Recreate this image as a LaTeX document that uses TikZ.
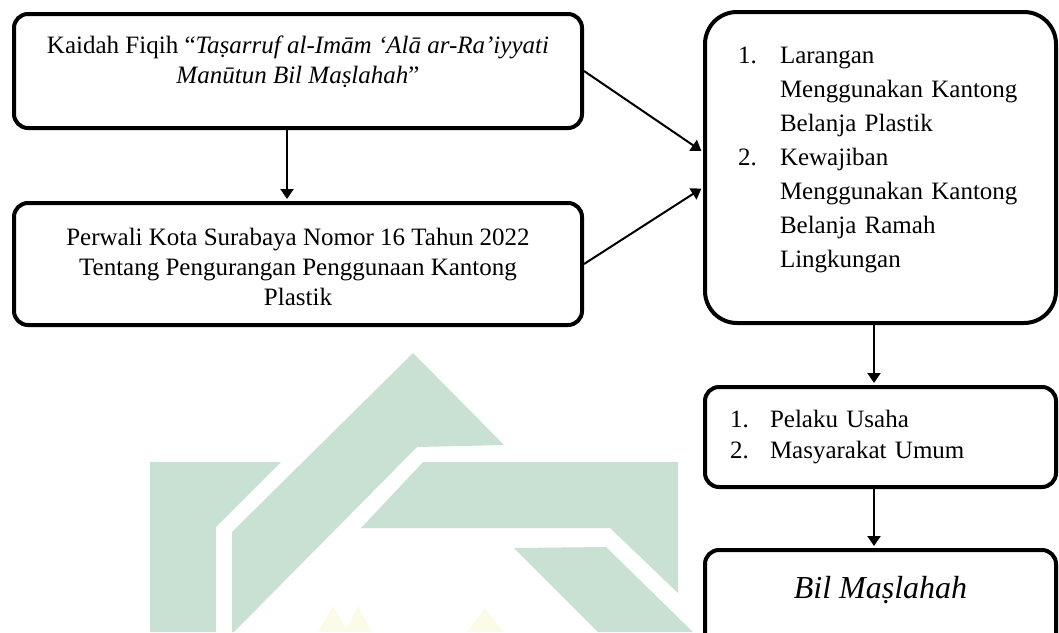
\documentclass[tikz,border=0pt]{standalone}
\usepackage{fontspec}
\setmainfont{Liberation Serif}
\usepackage{xcolor}
\usepackage{tikz}
\usetikzlibrary{arrows.meta,positioning}

\definecolor{logogreen}{RGB}{201,225,211}
\definecolor{logoyellow}{RGB}{252,251,232}

\begin{document}
\begin{tikzpicture}[
    x=0.5pt, y=-0.5pt,
    box/.style={draw=black, fill=white, line width=2pt, rounded corners=7pt, minimum width=284pt, inner sep=0pt, align=center, font=\fontsize{12.5}{15}\selectfont},
    listbox/.style={draw=black, fill=white, line width=2pt, minimum width=175.5pt, inner ysep=0pt, align=left},
    arrow/.style={-{Triangle[length=5pt,width=6.5pt]}, line width=1pt, shorten >=1pt},
    logo/.style={fill=logogreen, draw=none}
]
    \clip (0,0) rectangle (1059,632);

    % Watermark
    \fill[logo] (150,462) -- (281,462) -- (216,527) -- (216,632) -- (150,632) -- cycle;
    \fill[logo] (413,353) -- (504,445) -- (417,447) -- (234,632) -- (232,632) -- (232,532) -- cycle;
    \fill[logo] (423,462) -- (678,462) -- (678,593) -- (610,528) -- (361,528) -- cycle;
    \fill[logo] (514,548) -- (606,547) -- (693,632) -- (598,632) -- cycle;
    \fill[logoyellow] (318,632) -- (333,606) -- (348,632) -- cycle;
    \fill[logoyellow] (345,632) -- (358,606) -- (372,632) -- cycle;
    \fill[logoyellow] (467,632) -- (485,608) -- (503,632) -- cycle;

    % Left column
    \node[box, minimum height=57pt] (kaidah) at (298,71)
        {\raisebox{4.5pt}[\height][\depth]{\begin{tabular}{@{}c@{}}
        Kaidah Fiqih ``\textit{Taṣarruf al-Imām ‘Alā ar-Ra’iyyati}\\
        \textit{Manūtun Bil Maṣlahah}''
        \end{tabular}}};
    \node[box, minimum height=61pt] (perwali) at (298,264)
        {\raisebox{-2.5pt}[\height][\depth]{\begin{tabular}{@{}c@{}}
        Perwali Kota Surabaya Nomor 16 Tahun 2022\\
        Tentang Pengurangan Penggunaan Kantong\\
        Plastik
        \end{tabular}}};

    % Right column
    \node[listbox, rounded corners=16pt, minimum height=155.5pt, inner xsep=16.5pt, text width=142.5pt, font=\fontsize{12.5}{17}\selectfont] (aturan) at (880.5,167.5)
        {\raisebox{4.5pt}[\height][\depth]{\begin{tabular}{@{}p{21pt}@{}l@{}}
        1. & Larangan\\
           & Menggunakan Kantong\\
           & Belanja Plastik\\
        2. & Kewajiban\\
           & Menggunakan Kantong\\
           & Belanja Ramah\\
           & Lingkungan
        \end{tabular}}};
    \node[listbox, rounded corners=7pt, minimum height=50pt, inner xsep=12.5pt, text width=150.5pt, font=\fontsize{12.5}{15.5}\selectfont] (subjek) at (880.5,437)
        {\begin{tabular}{@{}p{20pt}@{}l@{}}
        1. & Pelaku Usaha\\
        2. & Masyarakat Umum
        \end{tabular}};
    \node[box, minimum width=175.5pt, minimum height=50pt, font=\fontsize{16}{19}\selectfont\itshape] (maslahah) at (880.5,600)
        {\raisebox{5pt}[\height][\depth]{Bil Maṣlahah}};

    % Arrows
    \draw[arrow] ([xshift=-5.5pt]kaidah.south) -- ([xshift=-5.5pt]perwali.north);
    \draw[arrow] (kaidah.east) -- ([yshift=7.75pt]aturan.west);
    \draw[arrow] (perwali.east) -- ([yshift=-10pt]aturan.west);
    \draw[arrow] ([xshift=-3.25pt]aturan.south) -- ([xshift=-3.25pt]subjek.north);
    \draw[arrow] ([xshift=-3.25pt]subjek.south) -- ([xshift=-3.25pt]maslahah.north);

\end{tikzpicture}
\end{document}
